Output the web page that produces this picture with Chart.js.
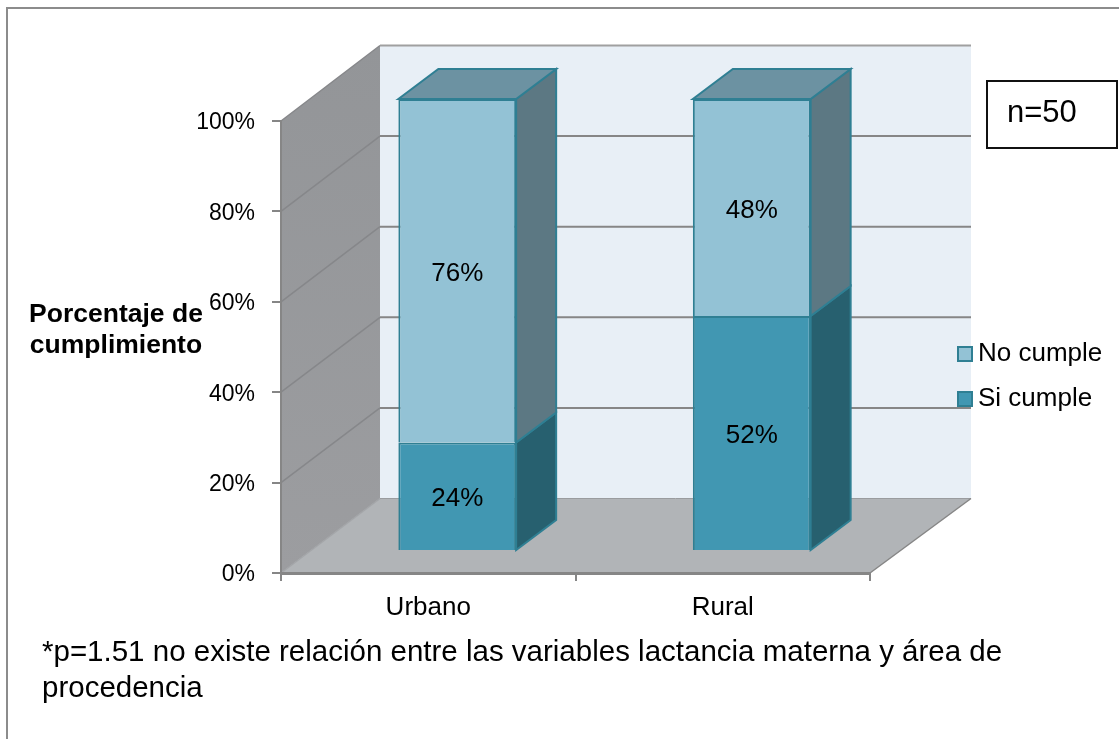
<!DOCTYPE html>
<html lang="es">
<head>
<meta charset="utf-8">
<title>Cumplimiento por área de procedencia</title>
<script src="https://cdn.jsdelivr.net/npm/chart.js@4"></script>
<style>
  html, body { margin: 0; padding: 0; background: #fff; overflow: hidden; }
  body { width: 1119px; height: 739px; position: relative; font-family: "Liberation Sans", Arial, sans-serif; color: #000; }
  #frame { position: absolute; left: 6px; top: 7px; width: 1200px; height: 800px; border: 2px solid #8c8c8c; }
  canvas { position: absolute; left: 0; top: 0; }
  #axisTitle { position: absolute; left: 16px; top: 298px; width: 200px; text-align: center; font-weight: bold; font-size: 26.5px; line-height: 31px; }
  #nBox { position: absolute; left: 986px; top: 80px; width: 128px; height: 65px; border: 2px solid #111; font-size: 31px; line-height: 59px; text-indent: 19px; }
  #legend { position: absolute; left: 957px; top: 330px; font-size: 26px; line-height: 45px; }
  #legend div { white-space: nowrap; }
  #legend span { display: inline-block; width: 12px; height: 12px; border: 2px solid #2f7f93; margin-right: 5px; position: relative; top: 1px; }
  #note { position: absolute; left: 42px; top: 633px; width: 1000px; font-size: 29.5px; line-height: 36px; }
</style>
</head>
<body>
<div id="frame"></div>
<canvas id="chart" width="1119" height="739"></canvas>
<div id="axisTitle">Porcentaje de<br>cumplimiento</div>
<div id="nBox">n=50</div>
<div id="legend"></div>
<div id="note">*p=1.51 no existe relación entre las variables lactancia materna y área de procedencia</div>

<script>
const areas = ["Urbano", "Rural"];
const siCumple = [24, 52];
const noCumple = [76, 48];
const yTicks = [0, 20, 40, 60, 80, 100];

// depth of the box the bars stand in, and of the bars themselves
const wallDxLeft = 99, wallDxRight = 101;
const wallDyTop = -75.5, wallDyBottom = -74.5;
const barShiftX = 29, barShiftY = -22;
const barDx = 40, barDy = -30;

const colors = {
  si: { front: "#4197b2", side: "#27606f" },
  no: { front: "#93c2d5", side: "#5c7883", top: "#6c92a2" },
  edge: "#2f7f93",
  grid: "#868686",
  backWall: "#e8eff6",
  floor: "#b1b4b7"
};

function fillPoly(ctx, pts, fill, stroke, lineWidth) {
  ctx.beginPath();
  pts.forEach((p, i) => i ? ctx.lineTo(p[0], p[1]) : ctx.moveTo(p[0], p[1]));
  ctx.closePath();
  ctx.fillStyle = fill;
  ctx.fill();
  if (stroke) {
    ctx.strokeStyle = stroke;
    ctx.lineWidth = lineWidth || 1;
    ctx.stroke();
  }
}

function line(ctx, x1, y1, x2, y2, color, width) {
  ctx.beginPath();
  ctx.moveTo(x1, y1);
  ctx.lineTo(x2, y2);
  ctx.strokeStyle = color;
  ctx.lineWidth = width;
  ctx.stroke();
}

// left wall, back wall, floor and the gridlines running over them
const walls = {
  id: "walls",
  beforeDraw(chart) {
    const ctx = chart.ctx;
    const { left, right, top, bottom } = chart.chartArea;
    const y = chart.scales.y;
    const backLeft = left + wallDxLeft, backRight = right + wallDxRight;
    const backTop = top + wallDyTop, backBottom = bottom + wallDyBottom;
    const backY = py => backBottom - (bottom - py) * (backBottom - backTop) / (bottom - top);

    fillPoly(ctx, [[backLeft, backTop], [backRight, backTop], [backRight, backBottom], [backLeft, backBottom]], colors.backWall);

    const wallFill = ctx.createLinearGradient(0, backTop, 0, bottom);
    wallFill.addColorStop(0, "#939598");
    wallFill.addColorStop(1, "#9c9da0");
    fillPoly(ctx, [[left, top], [backLeft, backTop], [backLeft, backBottom], [left, bottom]], wallFill);

    fillPoly(ctx, [[left, bottom], [right, bottom], [backRight, backBottom], [backLeft, backBottom]], colors.floor);

    yTicks.forEach(v => {
      const py = y.getPixelForValue(v);
      line(ctx, left, py, backLeft, backY(py), v === 0 ? "#a3a5a8" : "#86878a", 1.5);
      if (v > 0) {
        line(ctx, backLeft, backY(py), backRight, backY(py), v === 100 ? "#a0a0a0" : colors.grid, 2);
      }
    });
    line(ctx, backLeft, backBottom, backRight, backBottom, "#9a9c9f", 1);
    line(ctx, right, bottom, backRight, backBottom, colors.grid, 1.5);
  }
};

// side and top faces of each bar; the front faces are the chart's own bars, shifted into the box
const barDepth = {
  id: "barDepth",
  beforeDatasetsDraw(chart) {
    const ctx = chart.ctx;
    ctx.save();
    ctx.translate(barShiftX, barShiftY);
    chart.data.datasets.forEach((ds, d) => {
      const face = d === 0 ? colors.si : colors.no;
      chart.getDatasetMeta(d).data.forEach(bar => {
        const r = bar.x + bar.width / 2;
        const l = bar.x - bar.width / 2;
        fillPoly(ctx, [[r, bar.y], [r + barDx, bar.y + barDy], [r + barDx, bar.base + barDy], [r, bar.base]], face.side, colors.edge, 2);
        if (d === chart.data.datasets.length - 1) {
          fillPoly(ctx, [[l, bar.y], [l + barDx, bar.y + barDy], [r + barDx, bar.y + barDy], [r, bar.y]], face.top, colors.edge, 2);
        }
      });
    });
  },
  afterDatasetsDraw(chart) {
    const ctx = chart.ctx;
    ctx.font = '26px "Liberation Sans", Arial, sans-serif';
    ctx.fillStyle = "#000";
    ctx.textAlign = "center";
    ctx.textBaseline = "middle";
    chart.data.datasets.forEach((ds, d) => {
      chart.getDatasetMeta(d).data.forEach((bar, i) => {
        ctx.fillText(ds.data[i] + "%", bar.x, (bar.y + bar.base) / 2 + 3);
      });
    });
    ctx.restore();
  }
};

const chart = new Chart(document.getElementById("chart"), {
  type: "bar",
  data: {
    labels: areas,
    datasets: [
      { label: "Si cumple", data: siCumple, backgroundColor: colors.si.front, borderColor: colors.edge, borderWidth: 2 },
      { label: "No cumple", data: noCumple, backgroundColor: colors.no.front, borderColor: colors.edge, borderWidth: 2 }
    ]
  },
  plugins: [walls, barDepth],
  options: {
    responsive: false,
    animation: false,
    layout: { padding: { left: 181, top: 121, right: 249, bottom: 100 } },
    plugins: { legend: { display: false }, tooltip: { enabled: false } },
    datasets: { bar: { categoryPercentage: 1, barPercentage: 0.4 } },
    scales: {
      x: {
        stacked: true,
        afterFit: s => { s.height = 66; },
        border: { color: colors.grid, width: 3 },
        grid: { drawOnChartArea: false, color: colors.grid, lineWidth: 2, tickLength: 8 },
        ticks: { color: "#000", padding: 11, font: { family: '"Liberation Sans", Arial, sans-serif', size: 26 }, maxRotation: 0 }
      },
      y: {
        stacked: true,
        min: 0,
        max: 100,
        afterBuildTicks: s => { s.ticks = yTicks.map(v => ({ value: v })); },
        afterFit: s => { s.width = 100; },
        border: { color: colors.grid, width: 2 },
        grid: { drawOnChartArea: false, color: colors.grid, lineWidth: 2, tickLength: 9 },
        ticks: { color: "#000", padding: 17, labelOffset: 2, font: { family: '"Liberation Sans", Arial, sans-serif', size: 23 }, callback: v => v + "%" }
      }
    }
  }
});

// legend reads top to bottom in stacking order
document.getElementById("legend").innerHTML = chart.data.datasets.slice().reverse().map(ds =>
  `<div><span style="background:${ds.backgroundColor}"></span>${ds.label}</div>`
).join("");
</script>
</body>
</html>
